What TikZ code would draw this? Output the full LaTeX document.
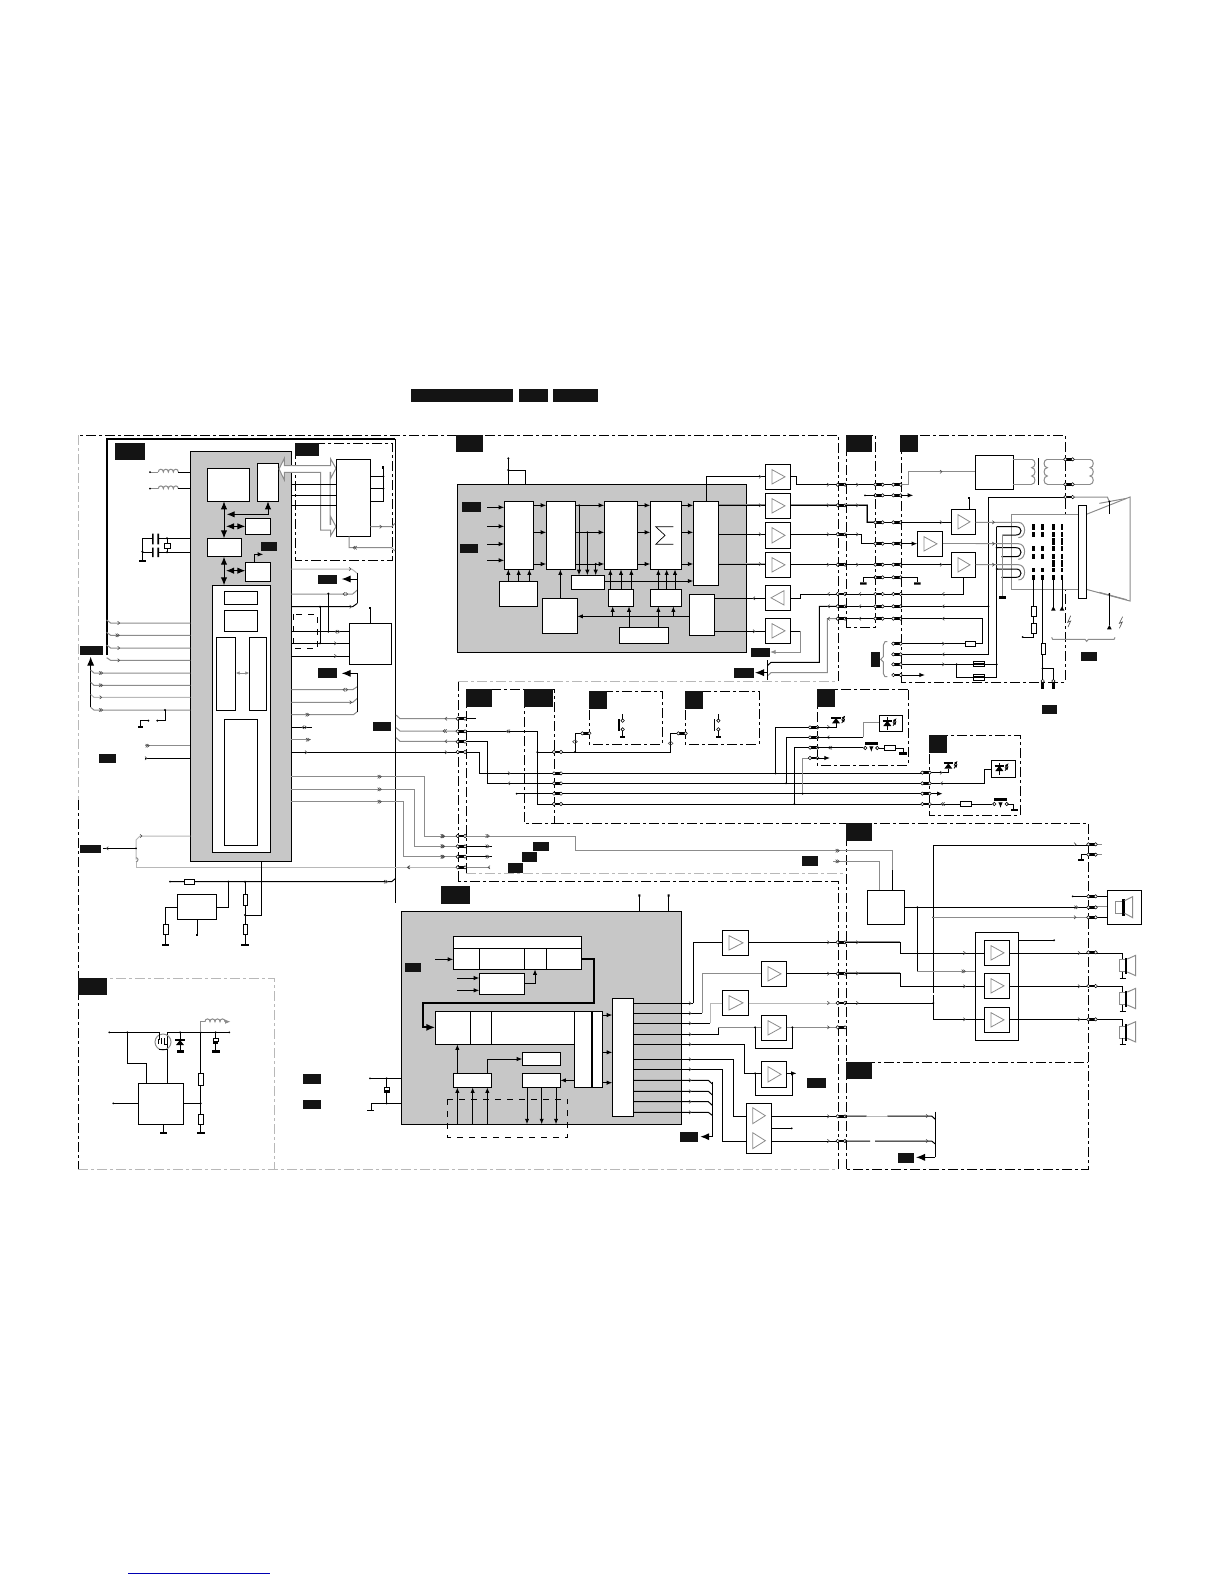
\documentclass[tikz,border=0pt]{standalone}
\usetikzlibrary{arrows.meta,fit}
\definecolor{gb}{gray}{0.78}
\definecolor{gw}{gray}{0.55}
\definecolor{lg}{gray}{0.72}
\tikzset{
 x=.5pt,y=-.5pt,
 z/.style 2 args={shift={(#1,#2)},x=.16667pt,y=-.16667pt},
 wire/.style={line width=.5pt,black},
 gwire/.style={line width=.5pt,gw},
 lwire/.style={line width=.5pt,lg},
 tk/.style={line width=.8pt,black},
 ar/.style={-{Latex[length=2.8pt,width=2.2pt]}},
 tar/.style={-{Latex[length=4.5pt,width=3.6pt]}},
 dar/.style={{Latex[length=4pt,width=3.2pt]}-{Latex[length=4pt,width=3.2pt]}},
 sdar/.style={{Latex[length=2pt,width=1.8pt]}-{Latex[length=2pt,width=1.8pt]}},
 dd/.style={line width=.5pt,black,dash pattern=on 5pt off 1.5pt on 1.5pt off 1.5pt},
 ddg/.style={line width=.5pt,lg,dash pattern=on 5pt off 1.5pt on 1.5pt off 1.5pt},
 blk/.style={draw=black,fill=white,rectangle,inner sep=0pt,outer sep=0pt,minimum size=0pt,line width=.5pt},
 gblk/.style={blk,fill=gb},
 mk/.style={line width=.3pt,black!70},
}
\newcommand\bx[6][]{\path (#3,#4) coordinate (#2@a) (#5,#6) coordinate (#2@b);\node[blk,#1,fit=(#2@a)(#2@b)] (#2) {};}
\newcommand\lab[4]{\fill[black!92] (#1,#2) rectangle (#3,#4);}
\newcommand\chR[2]{\draw[mk] ({#1-3},{#2-5}) -- ({#1+3},#2) -- ({#1-3},{#2+5});}
\newcommand\chL[2]{\draw[mk] ({#1+3},{#2-5}) -- ({#1-3},#2) -- ({#1+3},{#2+5});}
\newcommand\dcR[2]{\chR{#1}{#2}\chR{#1+5}{#2}}
\newcommand\dcL[2]{\chL{#1}{#2}\chL{#1+5}{#2}}
\newcommand\chB[2]{\chL{#1-4}{#2}\chR{#1+4}{#2}}
\newcommand\dott[2]{\fill[black] (#1,#2) circle[radius=.55pt];}
\newcommand\pinn[3]{\fill[black] (#1,{#3-4}) rectangle (#2,{#3+4});
 \draw[line width=.25pt,fill=white] (#1,#3) circle[radius=.85pt] (#2,#3) circle[radius=.85pt];}
\newcommand\pinV[3]{\fill[black] ({#1-4},#2) rectangle ({#1+4},#3);
 \draw[line width=.25pt,fill=white] (#1,#2) circle[radius=.85pt];}
\newcommand\rV[3]{\draw[wire,fill=white] ({#1-7},#2) rectangle ({#1+7},#3);}
\newcommand\rH[3]{\draw[wire,fill=white] (#1,{#3-7}) rectangle (#2,{#3+7});}
\newcommand\coilH[3]{\pgfmathsetmacro\coilw{(#2-#1)/4}%
 \draw[gwire] (#1,#3) \foreach \i in {0,1,2,3}{ .. controls ({#1+\i*\coilw},{#3-11}) and ({#1+(\i+1)*\coilw},{#3-11}) .. ({#1+(\i+1)*\coilw},#3)};}
\newcommand\coilV[4]{\pgfmathsetmacro\coilw{(#3-#2)/3}%
 \draw[gwire] (#1,#2) \foreach \i in {0,1,2}{ .. controls ({#1+#4},{#2+\i*\coilw}) and ({#1+#4},{#2+(\i+1)*\coilw}) .. (#1,{#2+(\i+1)*\coilw})};}
\newcommand\ampR[5]{\bx{#1}{#2}{#3}{#4}{#5}\draw[line width=.4pt,gw] ({#2+20},{#3+16}) -- ({#4-17},{(#3+#5)/2}) -- ({#2+20},{#5-16}) -- cycle;}
\newcommand\ampL[5]{\bx{#1}{#2}{#3}{#4}{#5}\draw[line width=.4pt,gw] ({#4-20},{#3+16}) -- ({#2+17},{(#3+#5)/2}) -- ({#4-20},{#5-16}) -- cycle;}
\newcommand\led[2]{\fill[black] ({#1-12},{#2+8}) -- ({#1+12},{#2+8}) -- (#1,{#2-8}) -- cycle;
 \draw[line width=1pt] ({#1-14},{#2-8}) -- ({#1+14},{#2-8});
 \draw[line width=.4pt,-{Latex[length=2pt,width=1.6pt]}] ({#1+17},{#2-2}) -- ({#1+28},{#2-16});
 \draw[line width=.4pt,-{Latex[length=2pt,width=1.6pt]}] ({#1+17},{#2+7}) -- ({#1+28},{#2-7});}
\newcommand\swt[3]{\draw[line width=.3pt,fill=white] ({#1},{#3}) circle[radius=.85pt] ({#2},{#3}) circle[radius=.85pt];
 \fill[black] ({#1-1},{#3-18}) rectangle ({#2+1},{#3-10});
 \draw[wire,ar] ({(#1+#2)/2},{#3-4}) -- ({(#1+#2)/2},{#3+12});}
\newcommand\swv[3]{\draw[line width=.3pt,fill=white] (#1,#2) circle[radius=.85pt] (#1,#3) circle[radius=.85pt];
 \fill[black] ({#1-14},{#2-4}) rectangle ({#1-9},{#3+4});
 \draw[wire] (#1,{#2-19}) -- (#1,{#2-5}) (#1,{#3+5}) -- (#1,{#3+22});
 \fill[black] ({#1-8},{#3+21}) rectangle ({#1+8},{#3+25});}
\newcommand\spk[2]{%
 \draw[wire] (#1,{#2+1}) -- ({#1},{#2+20});
 \draw[gwire,fill=white] ({#1-10},{#2+20}) rectangle ({#1+10},{#2+56});
 \fill[black] ({#1+7},{#2+14}) rectangle ({#1+14},{#2+64});
 \draw[gwire] ({#1+14},{#2+18}) -- ({#1+39},{#2+7}) -- ({#1+39},{#2+68}) -- ({#1+14},{#2+57});
 \draw[wire] (#1,{#2+56}) -- (#1,{#2+76}) ({#1-9},{#2+76}) -- ({#1+9},{#2+76});}
\begin{document}
\begin{tikzpicture}
\path[use as bounding box,fill=white] (0,0) rectangle (1224,1584);
% header
\lab{411}{389}{513}{402}\lab{519}{389}{548}{402}\lab{553}{389}{598}{402}
\draw[line width=.5pt,blue!70!black] (128,1573) -- (270,1573);
% frames
\draw[dd] (838,681) -- (838,435) -- (78,435);
\draw[ddg] (78,435) -- (78,800);
\draw[dd] (78,800) -- (78,1169);
\draw[ddg] (78,1169) -- (838,1169);
\draw[dd] (838,1169) -- (838,881) -- (458,881);
\draw[dd] (458,881) -- (458,681);
\draw[ddg] (458,681) -- (838,681);
\draw[dd] (466,873) -- (466,689) -- (554,689) -- (554,823) -- (524,823) -- (524,689);
\draw[dd] (554,823) -- (846,823);
\draw[ddg] (466,873) -- (846,873);
\draw[dd] (846,627) -- (846,435) -- (875,435) -- (875,627) -- cycle;
\draw[dd] (901,682) -- (901,435) -- (1065,435) -- (1065,682) -- cycle;
\draw[dd] (589,691) rectangle (662,744);
\draw[dd] (685,691) rectangle (759,744);
\draw[dd] (908,689) -- (817,689) -- (817,765) -- (908,765) -- cycle;
\draw[dd] (929,735) rectangle (1020,815);
\draw[dd] (846,1169) -- (846,823) -- (1088,823) -- (1088,1169) -- cycle;
\draw[dd] (846,1062) -- (1088,1062);
\draw[ddg] (78,978) -- (274,978) -- (274,1169);

%%%%%%%%%%%%%%% A
\begin{scope}[z={70}{425}]
\draw[line width=1pt] (110,690) -- (110,42) -- (975,42);
\draw[wire] (975,42) -- (975,1434);
\lab{135}{55}{225}{105}\lab{30}{663}{99}{690}\lab{30}{1260}{93}{1283}\lab{87}{987}{138}{1013}
\lab{744}{450}{801}{477}\lab{744}{729}{801}{758}\lab{909}{891}{963}{917}
\bx[gblk]{gA}{361}{79}{664}{1309}
\bx{a1}{412}{130}{538}{229}
\bx{a2}{562}{115}{625}{229}
\bx{a3}{526}{280}{602}{328}
\bx{a4}{412}{340}{515}{395}
\bx{a5}{526}{412}{602}{469}
\bx{a6}{427}{481}{602}{1282}
\bx{a7}{463}{499}{563}{538}
\bx{a8}{463}{556}{563}{619}
\bx{a9}{439}{637}{497}{857}
\bx{a10}{538}{637}{590}{857}
\bx{a11}{463}{883}{563}{1261}
\lab{573}{351}{621}{378}
\draw[wire,dar] (a1.south-|462,0) -- (a4.north-|462,0);
\draw[wire,dar] (470,268) -- (594,268) -- (a2.south-|594,0);
\draw[wire,dar] (468,304) -- (a3.west|-0,304);
\draw[wire,dar] (a4.south-|462,0) -- (a6.north-|462,0);
\draw[wire,dar] (468,437) -- (a5.west|-0,437);
\draw[wire,ar] (a5.north-|553,0) -- (553,388) -- (580,388);
\draw[gwire,sdar] (a9.east|-0,744) -- (a10.west|-0,744);
% coils
\draw[gwire] (240,141) -- (265,141); \fill (240,141) circle[radius=.5pt];
\coilH{265}{325}{141}\draw[wire] (325,141) -- (gA.west|-0,141);
\draw[gwire] (240,191) -- (265,191); \fill (240,191) circle[radius=.5pt];
\coilH{265}{325}{191}\draw[wire] (325,191) -- (gA.west|-0,191);
% crystal
\draw[wire] (gA.west|-0,340) -- (264,340) (248,340) -- (217,340) -- (217,405) (gA.west|-0,382) -- (264,382) (248,382) -- (217,382);
\fill (246,326) rectangle (251,358) (262,326) rectangle (267,358) (246,368) rectangle (251,396) (262,368) rectangle (267,396);
\fill (207,405) rectangle (227,412);
\dott{217}{380}\dott{291}{340}\dott{291}{382}
\draw[wire] (291,340) -- (291,382);\draw[wire,fill=white] (283,356) rectangle (301,370);
% right IC + dashed
\draw[dd] (675,55) rectangle (968,406);
\lab{675}{55}{747}{92}
\draw[line width=.5pt,gw,fill=white] (627,132) -- (643,100) -- (643,122) -- (782,122) -- (782,102) -- (798,130) -- (782,160) -- (782,142) -- (780,142) -- (780,298) -- (782,298) -- (782,275) -- (798,305) -- (782,332) -- (782,315) -- (752,315) -- (752,142) -- (643,142) -- (643,165) -- cycle;
\bx{a12}{799}{103}{901}{334}
\foreach \y in {178,211,241}{\draw[wire] (gA.east|-0,\y) -- (a12.west|-0,\y);}
\draw[wire] (a12.east|-0,154) -- (940,154) (a12.east|-0,191) -- (940,191) (a12.east|-0,229) -- (940,229) -- (940,125);
\dott{940}{154}\dott{940}{191}\fill (936,124) rectangle (941,132);
\draw[gwire] (a12.east|-0,305) -- (965,305) -- (975,295);\chR{932}{305}
\draw[gwire] (837,334) -- (837,368) -- (965,368) -- (975,378);\dcL{852}{368}
% right gray lines
\draw[lwire] (gA.east|-0,432) -- (845,432) -- (862,445);\chR{840}{432}
\draw[gwire] (gA.east|-0,507) -- (848,507) -- (862,495);\chB{826}{507}
\draw[wire] (gA.east|-0,545) -- (848,545) -- (862,535);\chR{842}{545}
\draw[wire] (862,445) -- (862,535);
\draw[wire,tar] (862,462) -- (815,462);
\dott{775}{506}\dott{750}{545}
\bx{a13}{838}{595}{965}{718}
\draw[wire] (775,506) -- (775,620) (750,545) -- (750,655);
\draw[dd,dashed] (670,568) rectangle (743,670);
\draw[wire] (gA.east|-0,620) -- (a13.west|-0,620);\chB{802}{620}
\draw[wire] (gA.east|-0,655) -- (a13.west|-0,655);\chR{796}{655}
\draw[wire] (gA.east|-0,693) -- (a13.west|-0,693);\chR{796}{693}
\dott{775}{620}\dott{750}{655}
\draw[wire] (a13.north-|900,0) -- (900,545);\fill (897,545) rectangle (903,552);
\draw[gwire] (gA.east|-0,794) -- (848,794) -- (862,785);\chB{826}{794}
\draw[gwire] (gA.east|-0,832) -- (848,832) -- (862,820);\chR{842}{832}
\draw[gwire] (gA.east|-0,869) -- (850,869) -- (862,860);\dcR{710}{869}
\draw[wire] (862,745) -- (862,860);
\draw[wire,tar] (862,745) -- (815,745);
\draw[wire] (gA.east|-0,907) -- (725,907);\chB{703}{907}
\draw[gwire] (gA.east|-0,944) -- (722,944);\dcR{711}{944}
\draw[wire] (gA.east|-0,982) -- (1163,982);\chR{708}{982}\chR{1128}{982}
\draw[gwire] (978,870) -- (990,881) -- (1163,881);\chL{1128}{881}
\draw[gwire] (978,908) -- (990,918) -- (1163,918);\dcL{1122}{918}
\draw[gwire] (978,938) -- (990,949) -- (1163,949);\chL{1128}{949}
\draw[gwire] (gA.east|-0,1055) -- (1063,1055) -- (1063,1234) -- (1163,1234);\dcR{926}{1055}\dcR{1116}{1234}
\draw[gwire] (gA.east|-0,1093) -- (1032,1093) -- (1032,1264) -- (1163,1264);\dcR{926}{1093}\dcR{1116}{1264}
\draw[gwire] (gA.east|-0,1130) -- (1000,1130) -- (1000,1295) -- (1163,1295);\dcR{926}{1130}\dcR{1116}{1295}
\draw[lwire] (1163,1327) -- (198,1327) -- (198,1310);\chL{1015}{1327}
\draw[lwire] (198,1304) -- (198,1245) -- (210,1233) -- (gA.west|-0,1233);\chR{213}{1233}
\draw[gwire] (198,1310) arc[start angle=-90,end angle=90,radius=1pt];
\dott{198}{1270}
\draw[wire] (198,1270) -- (100,1270);\chL{112}{1270}
% left lines
\foreach \a/\b/\m in {585/594/1,622/631/2,660/669/1,698/706/1}{
 \draw[gwire] (110,\a) -- (122,\b) -- (gA.west|-0,\b);}
\chR{146}{594}\dcR{140}{631}\chR{146}{669}\chR{146}{706}
\draw[wire,tar] (62,847) -- (62,695);
\foreach \a/\b in {735/744,772/781,847/855}{\draw[gwire] (62,\a) -- (72,\b) -- (gA.west|-0,\b);\dcR{90}{\b}}
\draw[lwire] (62,808) -- (72,817) -- (gA.west|-0,817);\chR{92}{817}
\draw[wire] (285,855) -- (285,887) -- (262,887);\dott{285}{855}\dott{262}{887}\dott{235}{887}
\draw[wire] (235,887) -- (210,887) -- (210,905);\fill (203,904) rectangle (218,909);
\draw[gwire] (225,962) -- (gA.west|-0,962);\dcR{230}{962}
\draw[wire] (225,1000) -- (gA.west|-0,1000);\chR{228}{1000}
\end{scope}

%%%%%%%%%%%%%%% B
\begin{scope}[z={450}{425}]
\lab{18}{31}{99}{81}
\bx[gblk]{gB}{22}{178}{889}{682}
\bx{b1}{163}{229}{250}{433}
\bx{b2}{289}{229}{377}{433}
\bx{b3}{463}{229}{562}{433}
\bx{b4}{601}{229}{694}{433}
\bx{b5}{730}{229}{806}{481}
\bx{b6}{148}{469}{262}{544}
\bx{b7}{277}{520}{382}{625}
\bx{b8}{364}{451}{463}{493}
\bx{b9}{475}{493}{550}{544}
\bx{b10}{601}{493}{694}{544}
\bx{b11}{718}{508}{793}{631}
\bx{b12}{508}{607}{655}{655}
\draw[line width=.35pt] (670,305) -- (617,305) -- (645,331) -- (617,358) -- (670,358);
\lab{36}{232}{93}{260}\lab{30}{357}{84}{383}
\draw[wire] (gB.north-|175,0) -- (175,100);\dott{175}{100}\dott{175}{135}
\draw[wire] (175,135) -- (227,135) -- (gB.north-|227,0);
\foreach \y in {247,304,357,406}{\draw[wire,ar] (111,\y) -- (b1.west|-0,\y);}
\foreach \y in {241,322,417}{
 \draw[wire,ar] (b1.east|-0,\y) -- (b2.west|-0,\y);
 \draw[wire,ar] (b2.east|-0,\y) -- (b3.west|-0,\y);
 \draw[wire,ar] (b3.east|-0,\y) -- (b4.west|-0,\y);
 \draw[wire,ar] (b4.east|-0,\y) -- (b5.west|-0,\y);}
\dott{387}{241}\dott{412}{322}\dott{437}{417}
\draw[wire,ar] (387,241) -- (b8.north-|387,0);
\draw[wire,ar] (412,322) -- (b8.north-|412,0);
\draw[wire,ar] (437,417) -- (b8.north-|437,0);
\foreach \x in {175,206,238}{\draw[wire,ar] (b6.north-|\x,0) -- (b1.south-|\x,0);}
\draw[wire,ar] (b7.north-|331,0) -- (b2.south-|331,0);
\foreach \x in {481,513,544}{\draw[wire,ar] (b9.north-|\x,0) -- (b3.south-|\x,0);}
\foreach \x in {625,650,675}{\draw[wire,ar] (b10.north-|\x,0) -- (b4.south-|\x,0);}
\draw[wire,ar] (b8.east|-0,468) -- (b5.west|-0,468);
\draw[wire,ar] (b11.west|-0,574) -- (b7.east|-0,574);
\draw[wire,ar] (488,574) -- (b9.south-|488,0);
\draw[wire,ar] (670,574) -- (b10.south-|670,0);
\draw[wire,ar] (b12.north-|537,0) -- (b9.south-|537,0);
\draw[wire,ar] (b12.north-|625,0) -- (b10.south-|625,0);
\ampR{c1}{946}{118}{1022}{193}
\ampR{c2}{946}{205}{1022}{280}
\ampR{c3}{946}{292}{1022}{370}
\ampR{c4}{946}{382}{1022}{457}
\ampL{c5}{946}{481}{1022}{556}
\ampR{c6}{946}{580}{1022}{655}
\draw[wire] (b5.north-|769,0) -- (769,155) -- (c1.west|-0,155);\chR{930}{155}
\draw[line width=.9pt,gw] (b5.east|-0,241) -- (c2.west|-0,241);\draw[wire] (b5.east|-0,241) -- (c2.west|-0,241);\chR{930}{241}
\draw[wire] (b5.east|-0,328) -- (c3.west|-0,328);\chR{930}{328}
\draw[line width=.8pt,lg] (b5.east|-0,417) -- (c4.west|-0,417);\draw[wire] (b5.east|-0,417) -- (c4.west|-0,417);\chR{930}{417}
\draw[wire] (b11.east|-0,520) -- (c5.west|-0,520);\chL{912}{520}
\draw[wire] (b11.east|-0,619) -- (c6.west|-0,619);\chR{912}{619}
\draw[wire] (c1.east|-0,155) -- (1040,155) -- (1040,179) -- (1163,179);\chR{1134}{179}
\draw[line width=.9pt,gw] (c2.east|-0,241) -- (1163,241);\draw[wire] (c2.east|-0,241) -- (1163,241);\chR{1134}{241}
\draw[wire] (c3.east|-0,328) -- (1163,328);\chR{1134}{328}
\draw[line width=.8pt,lg] (c4.east|-0,419) -- (1163,419);\draw[wire] (c4.east|-0,419) -- (1163,419);\chR{1134}{419}
\draw[wire] (1163,507) -- (1052,507) -- (1052,520) -- (c5.east|-0,520);\chL{1136}{507}
\draw[wire] (1163,544) -- (1108,544) -- (1108,712) -- (963,712) -- (952,722);\chL{1136}{544}
\draw[gwire] (1163,581) -- (1132,581) -- (1132,743) -- (963,743) -- (952,753);\chL{1136}{581}
\draw[wire] (952,705) -- (952,765);
\draw[wire,tar] (952,743) -- (915,743);
\draw[wire] (c6.east|-0,619) -- (1052,619);\draw[gwire,ar] (1052,619) -- (1052,681) -- (960,681);
\lab{903}{669}{960}{696}\lab{852}{729}{912}{759}
\foreach \y in {179,241,328,419,507,544,581}{\pinn{1163}{1185}{\y}}
\end{scope}

%%%%%%%%%%%%%%% C
\begin{scope}[z={830}{425}]
\lab{48}{30}{126}{80}\lab{210}{30}{264}{80}
\bx{d1}{436}{91}{550}{193}
% CRT neck first: it hides the frame
\draw[gwire,fill=white] (545,268) rectangle (745,493);
\draw[gwire,fill=white] (769,268) -- (900,216) -- (900,528) -- (769,493);
\draw[gwire] (808,235) -- (890,220) (808,502) -- (890,524);
\draw[wire,fill=white] (745,241) rectangle (769,520);
\draw[wire] (45,179) -- (136,179);\chR{82}{179}
\draw[line width=.9pt,gw] (45,241) -- (112,241) -- (112,292) -- (136,292);\draw[wire] (45,241) -- (112,241) -- (112,292) -- (136,292);\chR{82}{241}
\draw[wire] (45,328) -- (93,328) -- (93,356) -- (136,356);\chR{82}{328}
\draw[wire] (45,419) -- (136,419);\chR{82}{419}
\draw[wire] (45,507) -- (136,507);\chL{90}{507}
\draw[wire] (45,544) -- (136,544);\chL{90}{544}
\draw[wire] (45,581) -- (136,581);\chL{90}{581}
\foreach \y in {179,292,356,419,457,507,544,581,211}{\draw[wire] (158,\y) -- (190,\y);\pinn{136}{158}{\y}\pinn{190}{212}{\y}}
\draw[wire] (105,211) -- (136,211);\fill (105,211) circle[radius=.5pt];
\draw[wire,ar] (212,211) -- (250,211);
\draw[wire] (136,457) -- (100,457) -- (100,472) (212,457) -- (262,457) -- (262,472);
\fill (90,472) rectangle (110,479) (252,472) rectangle (272,479);
\draw[gwire] (212,179) -- (235,179) -- (235,140) -- (d1.west|-0,140);\chR{333}{140}
\draw[gwire] (d1.east|-0,103) -- (605,103) (d1.east|-0,178) -- (605,178);
\coilV{605}{103}{178}{13}
\draw[line width=.6pt] (625,100) -- (625,180);
\coilV{652}{103}{178}{-13}
\draw[gwire] (652,103) -- (706,103) (652,178) -- (706,178);
\draw[gwire] (728,103) -- (780,103) (728,178) -- (780,178);
\coilV{780}{103}{178}{13}
\ampR{d2}{364}{253}{437}{328}
\ampR{d3}{262}{319}{338}{394}
\ampR{d4}{364}{382}{437}{457}
\draw[wire] (d2.north-|418,0) -- (418,218);\fill (415,216) rectangle (421,222);
\draw[wire] (212,292) -- (d2.west|-0,292);\chR{333}{292}
\draw[wire,ar] (212,356) -- (d3.west|-0,356);
\draw[wire] (212,419) -- (d4.west|-0,419);\chR{333}{419}
\draw[wire] (d4.south-|401,0) -- (401,507) -- (212,507);\chL{340}{507}
\draw[wire] (212,544) -- (475,544);\chL{340}{544}\dott{475}{544}
\draw[wire] (212,581) -- (457,581) -- (457,656) -- (437,656);\chL{340}{581}
\rH{406}{437}{656}
\draw[wire] (406,656) -- (212,656);\chR{340}{656}
\draw[wire] (475,216) -- (475,688) -- (212,688);\chL{340}{688}
\draw[wire] (475,216) -- (706,216);
\draw[gwire] (728,216) -- (832,216) -- (838,230);
\draw[wire] (212,718) -- (430,718);\chR{340}{718}\dott{380}{718}
\draw[wire] (380,718) -- (380,757) -- (430,757);
\draw[wire] (463,718) -- (500,718) (463,757) -- (500,757) -- (500,305);\dott{500}{718}
\draw[wire,fill=white] (430,710) rectangle (463,725) (430,749) rectangle (463,765);
\draw[line width=1pt] (430,717.5) -- (463,717.5) (430,757) -- (463,757);
\draw[wire,ar] (212,750) -- (285,750);
\draw[gwire] (172,650) -- (165,650) -- (160,660) -- (160,695) -- (152,703) -- (160,711) -- (160,745) -- (165,755) -- (172,755);
\lab{123}{681}{150}{725}
% heaters
\foreach \a/\b in {292/330,356/395,419/457}{
 \draw[gwire] (437,\a) -- (565,\a) .. controls (590,\a) and (590,{\b+8}) .. (565,{\b+8});}
\draw[gwire] (338,356) -- (437,356);
\foreach \a/\b in {305/330,368/395,432/457}{
 \draw[wire] (500,\a) -- (558,\a) .. controls (578,\a) and (578,\b) .. (558,\b) -- (517,\b);}
\dott{500}{368}\dott{500}{432}\dott{517}{395}\dott{517}{457}
\draw[gwire] (517,330) -- (517,515);\fill (508,513) rectangle (528,521);
\chR{490}{292}\chR{490}{356}\chR{490}{419}
% electrodes
\foreach \x in {611,637}{\foreach \a/\b in {297/315,320/335,363/377,388/402,428/442,450/465}{\fill (\x-4,\a) rectangle (\x+4,\b);}}
\foreach \x in {670,696}{\foreach \a/\b in {297/315,320/335,338/360,363/377,388/402,405/425,428/442,450/465}{\fill (\x-4,\a) rectangle (\x+4,\b);}}
\draw[wire] (611,465) -- (611,636) -- (578,636);\fill (578,636) circle[radius=.5pt];
\rV{611}{545}{575}\rV{611}{595}{625}
\draw[wire] (638,465) -- (638,765);\rV{640}{655}{688}
\dott{638}{730}\draw[wire] (638,730) -- (670,730) -- (670,765);
\pinV{638}{768}{792}\pinV{670}{768}{792}
\draw[wire] (670,465) -- (670,550) (696,465) -- (696,550);
\fill (663,557) -- (677,557) -- (670,544) -- cycle (689,557) -- (703,557) -- (696,544) -- cycle;
\draw[wire] (838,230) -- (838,268) (838,505) -- (838,600);\dott{838}{230}\dott{838}{507}
\fill (831,613) -- (845,613) -- (838,600) -- cycle;
\draw[line width=.3pt,black!70] (722,572) -- (713,592) -- (722,588) -- (714,606);
\draw[line width=.3pt,black!70] (878,575) -- (868,595) -- (877,591) -- (868,610);
\draw[gwire] (665,637) -- (668,643) -- (765,643) -- (770,649) -- (775,643) -- (852,643) -- (855,637);
\lab{753}{682}{801}{707}\lab{635}{840}{681}{866}
\foreach \y in {656,688,718,750}{\pinn{190}{212}{\y}}
\pinn{706}{728}{103}\pinn{706}{728}{178}\pinn{706}{728}{216}
\end{scope}

%%%%%%%%%%%%%%% D
\begin{scope}[z={390}{680}]
\lab{229}{28}{306}{80}\lab{403}{28}{489}{80}\lab{598}{33}{651}{86}\lab{885}{33}{939}{86}\lab{1282}{27}{1335}{80}
\lab{430}{486}{476}{512}\lab{396}{516}{441}{545}\lab{354}{549}{399}{579}
\draw[wire] (225,116) -- (257,116);
\draw[wire] (225,154) -- (442,154) -- (442,372) -- (492,372);\dcL{352}{154}\dott{442}{216}
\draw[wire] (225,185) -- (293,185) -- (293,310) -- (492,310);\chL{357}{310}
\draw[wire] (225,216) -- (268,216) -- (268,280) -- (492,280);\chR{357}{280}
\draw[wire] (380,341) -- (492,341);\fill (380,341) circle[radius=.5pt];
\draw[wire] (442,216) -- (492,216);
\draw[wire] (513,216) -- (842,216) -- (842,160) -- (865,160);\dott{555}{216}
\draw[wire] (555,216) -- (555,160) -- (577,160);\chB{555}{185}\chB{842}{190}
\foreach \y in {280,310,341,372}{\draw[wire] (513,\y) -- (1596,\y);}
\draw[wire] (1157,280) -- (1157,142) -- (1260,142);\dott{1157}{280}
\draw[wire] (1188,310) -- (1188,172) -- (1260,172);\dott{1188}{310}
\draw[wire] (1213,372) -- (1213,203) -- (1260,203);\dott{1213}{372}
\draw[gwire] (1238,341) -- (1238,234) -- (1260,234);\dott{1238}{341}
\foreach \y in {216,280,310,341,372}{\pinn{492}{513}{\y}}
\pinn{577}{598}{160}\pinn{865}{887}{160}
\foreach \y in {142,172,203,234}{\pinn{1260}{1282}{\y}}
\swv{698}{122}{148}\swv{985}{122}{148}
\draw[gwire] (225,468) -- (555,468) -- (555,511) -- (1368,511);
\draw[wire] (225,499) -- (305,499);\draw[wire] (225,530) -- (305,530);\draw[gwire] (225,562) -- (300,562);
\foreach \y in {468,499,530}{\dcR{155}{\y}\dcR{290}{\y}}
\chL{297}{562}\chL{57}{562}
\foreach \y in {116,154,185,216,468,499,530,562}{\pinn{203}{225}{\y}}
\end{scope}

%%%%%%%%%%%%%%% E
\begin{scope}[z={800}{680}]
\lab{387}{165}{441}{219}\lab{138}{430}{216}{483}\lab{6}{528}{54}{558}
\chR{85}{141}\chL{85}{172}\dcL{88}{203}
\draw[wire] (52,141) -- (108,141) -- (108,130);\led{108}{122}
\bx{e1}{238}{105}{308}{155}
\draw[wire] (52,172) -- (190,172);\draw[gwire] (190,172) -- (190,127) -- (e1.west|-0,127);
\draw[wire] (262,112) -- (262,150);\led{262}{130}
\draw[wire] (52,203) -- (190,203);\swt{196}{232}{204}
\draw[wire] (238,204) -- (309,204) -- (309,218);\rH{253}{287}{204}\fill (298,217) rectangle (320,224);
\draw[wire,ar] (52,234) -- (90,234);
\bx{e2}{574}{241}{647}{293}
\draw[wire] (389,278) -- (445,278) -- (445,267);\led{445}{258}\chR{423}{278}
\draw[wire] (389,310) -- (553,310) -- (553,267) -- (e2.west|-0,267);\chL{425}{310}
\draw[wire] (598,250) -- (598,285);\led{598}{265}
\draw[wire,ar] (389,341) -- (428,341);
\draw[wire] (389,372) -- (577,372);\rH{481}{515}{372}\dcL{426}{372}
\swt{583}{620}{372}
\draw[wire] (625,372) -- (640,372) -- (640,388);\fill (632,387) rectangle (654,394);
\foreach \y in {278,310,341,372}{\pinn{367}{389}{\y}}
% lower lines
\draw[gwire] (112,512) -- (277,512) -- (277,600);\dcR{110}{512}
\draw[gwire] (100,544) -- (238,544) -- (238,600);\dcR{110}{544}
\draw[wire] (400,600) -- (400,496) -- (865,496);\chR{825}{493}
\draw[wire] (865,524) -- (843,524) -- (843,540);\fill (833,538) rectangle (853,543);
\draw[gwire] (887,493) -- (905,493) (887,524) -- (905,524);
\pinn{865}{887}{493}\pinn{865}{887}{524}
\end{scope}

%%%%%%%%%%%%%%% F
\begin{scope}[z={390}{880}]
\lab{153}{18}{240}{71}\lab{1251}{594}{1308}{624}\lab{870}{756}{924}{785}
\bx[gblk]{gF}{35}{95}{875}{733}
\lab{45}{250}{93}{275}
\draw[wire] (gF.north-|748,0) -- (748,45) (gF.north-|836,0) -- (836,45);\fill (745,43) rectangle (751,50) (833,43) rectangle (839,50);
\bx{f1}{190}{170}{575}{268}
\draw[wire] (190,206) -- (575,206);
\foreach \x in {268,403,469}{\draw[wire] (\x,206) -- (\x,268);}
\bx{f2}{268}{280}{403}{343}
\draw[wire,ar] (135,238) -- (f1.west|-0,238);
\draw[wire,ar] (202,294) -- (f2.west|-0,294);
\draw[wire,ar] (202,331) -- (f2.west|-0,331);
\draw[wire,ar] (f2.east|-0,311) -- (435,311) -- (435,268);
\bx{f3}{136}{394}{637}{493}
\bx{f4}{553}{394}{637}{622}
\draw[wire] (241,394) -- (241,493) (304,394) -- (304,493);
\draw[line width=1pt] (606,394) -- (606,622);
\draw[line width=1pt,tar] (f1.east|-0,236) -- (612,236) -- (612,368) -- (98,368) -- (98,442) -- (f3.west|-0,442);
\bx{f5}{667}{355}{730}{709}
\foreach \y in {405,517,608}{\draw[wire,ar] (f4.east|-0,\y) -- (f5.west|-0,\y);}
\bx{f6}{190}{580}{304}{622}
\bx{f7}{397}{517}{511}{556}
\bx{f8}{397}{580}{511}{622}
\draw[wire,ar] (f6.north-|202,0) -- (f3.south-|202,0);
\draw[wire,ar] (f6.north-|292,0) -- (292,537) -- (f7.west|-0,537);
\draw[wire,ar] (f4.west|-0,601) -- (f8.east|-0,601);
\foreach \x in {202,248,292}{\draw[wire,ar] (\x,733) -- (f6.south-|\x,0);}
\foreach \x in {411,455,498}{\draw[wire,ar] (f8.south-|\x,0) -- (\x,733);}
\draw[dd,dashed] (172,657) -- (172,772) -- (533,772) -- (533,657) -- cycle;
\ampR{g1}{997}{151}{1076}{226}
\ampR{g2}{1114}{244}{1190}{319}
\ampR{g3}{997}{331}{1076}{406}
\ampR{g4}{1114}{406}{1190}{481}
\ampR{g5}{1114}{544}{1190}{622}
\bx{g6}{1069}{670}{1145}{820}
\draw[line width=.4pt,gw] (1088,683) -- (1126,707) -- (1088,731) -- cycle (1088,758) -- (1126,782) -- (1088,806) -- cycle;
\draw[wire] (f5.east|-0,370) -- (910,370);
\draw[tk] (910,370) -- (910,187) -- (g1.west|-0,187);
\draw[tk] (g1.east|-0,187) -- (1343,187);
\draw[wire] (f5.east|-0,400) -- (937,400);\draw[gwire] (937,400) -- (937,281) -- (g2.west|-0,281);
\draw[wire] (g2.east|-0,281) -- (1343,281);
\draw[wire] (f5.east|-0,430) -- (961,430);\draw[lwire] (961,430) -- (961,369) -- (g3.west|-0,369);
\draw[lwire] (g3.east|-0,369) -- (1343,369);
\draw[wire] (f5.east|-0,463) -- (985,463) -- (985,442);\draw[gwire] (985,442) -- (g4.west|-0,442);
\draw[gwire] (g4.east|-0,442) -- (1343,442);
\draw[wire] (1095,442) -- (1095,505) -- (1207,505) -- (1207,442);\dott{1095}{442}\dott{1207}{442}
\draw[wire] (f5.east|-0,493) -- (1063,493) -- (1063,580) -- (g5.west|-0,580);
\draw[wire,ar] (g5.east|-0,580) -- (1220,580);
\draw[wire] (1095,580) -- (1095,645) -- (1207,645) -- (1207,580);\dott{1095}{580}\dott{1207}{580}
\draw[wire] (f5.east|-0,538) -- (1031,538) -- (1031,709) -- (g6.west|-0,709);
\draw[wire] (f5.east|-0,568) -- (998,568) -- (998,783) -- (g6.west|-0,783);
\draw[wire] (g6.east|-0,709) -- (1343,709);\draw[wire] (g6.east|-0,783) -- (1343,783);
\draw[wire] (g6.east|-0,745) -- (1205,745);\fill (1205,745) circle[radius=.5pt];
\foreach \a/\b in {601/612,634/645,665/676,697/706}{\draw[wire] (f5.east|-0,\a) -- (955,\a) -- (967,\b);}
\draw[wire] (967,605) -- (967,770);
\draw[tk,tar] (967,770) -- (930,770);
\foreach \y in {370,400,430,463,493,538,568,601,634,665,697}{\chR{900}{\y}}
\foreach \y in {187,281,369,442,709,783}{\chR{1315}{\y}\pinn{1343}{1365}{\y}}
\end{scope}

%%%%%%%%%%%%%%% G
\begin{scope}[z={830}{870}]
\lab{48}{575}{126}{626}\lab{204}{849}{252}{879}
\bx{h1}{112}{61}{224}{163}
\draw[gwire] (149,0) -- (h1.north-|149,0);
\draw[wire] (187,0) -- (h1.north-|187,0);
\draw[wire] (310,0) -- (310,369) (310,375) -- (310,448);
\dott{310}{142}\dott{262}{112}\dott{310}{399}
\draw[gwire] (310,142) -- (775,142);\chR{735}{142}
\draw[wire] (h1.east|-0,112) -- (775,112);\dcR{736}{112}
\bx{h2}{436}{187}{565}{511}
\draw[wire] (262,112) -- (262,304);\draw[gwire] (262,304) -- (h2.west|-0,304);\dcR{398}{304}
\ampR{h3}{463}{211}{539}{286}
\ampR{h4}{463}{310}{539}{385}
\ampR{h5}{463}{412}{539}{487}
\draw[line width=.9pt,gw] (45,217) -- (210,217);\draw[wire] (45,217) -- (210,217) -- (210,249) -- (h3.west|-0,249);\chR{82}{217}\chR{403}{249}
\draw[line width=.9pt,gw] (45,310) -- (210,310);\draw[wire] (45,310) -- (210,310) -- (210,349) -- (h4.west|-0,349);\chR{82}{310}\chR{403}{349}
\draw[wire] (45,399) -- (310,399);\chR{82}{399}
\draw[wire] (310,448) -- (h5.west|-0,448);\chR{403}{448}
\draw[wire] (h3.east|-0,249) -- (775,249);\chR{747}{249}
\draw[wire] (h4.east|-0,349) -- (775,349);\chR{747}{349}
\draw[wire] (h5.east|-0,448) -- (775,448);\chR{747}{448}
\draw[wire] (h2.east|-0,211) -- (672,211);\dott{672}{211}
\bx{h6}{832}{61}{935}{163}
\draw[wire] (728,79) -- (775,79) (797,79) -- (h6.west|-0,79);\fill (728,79) circle[radius=.5pt];
\draw[gwire] (797,110) -- (h6.west|-0,110);
\draw[wire] (797,142) -- (h6.west|-0,142);
\draw[gwire,fill=white] (856,93) rectangle (878,130);
\fill (877,88) rectangle (884,137);
\draw[gwire] (884,92) -- (908,80) -- (908,143) -- (884,130);
\draw[wire] (797,249) -- (878,249);\spk{878}{249}
\draw[wire] (797,348) -- (878,348);\spk{878}{348}
\draw[wire] (797,448) -- (878,448);\spk{878}{448}
\foreach \y in {79,112,142,247,348,448}{\pinn{775}{797}{\y}}
\draw[wire] (45,738) -- (110,738) (172,738) -- (305,738) -- (316,748);\draw[lwire] (110,738) -- (172,738);
\draw[wire] (45,813) -- (120,813) (135,813) -- (305,813) -- (316,822);
\chR{291}{738}\chR{291}{813}
\draw[wire] (316,725) -- (316,862);
\draw[wire,tar] (316,862) -- (258,862);
\end{scope}

%%%%%%%%%%%%%%% H
\begin{scope}[z={70}{860}]
\lab{23}{355}{111}{405}\lab{699}{642}{753}{672}\lab{699}{719}{753}{746}
\draw[wire] (374,65) -- (965,65) -- (977,55) (300,65) -- (343,65);\fill (300,65) circle[radius=.5pt];
\rH{343}{374}{65}\dott{475}{65}\dott{525}{65}\dcR{945}{65}
\bx{k1}{322}{103}{440}{179}
\draw[wire] (475,65) -- (475,142) -- (k1.east|-0,142);
\draw[wire] (k1.west|-0,142) -- (287,142) -- (287,255);\rV{287}{193}{224}
\fill (275,253) rectangle (297,258);
\draw[wire] (k1.south-|381,0) -- (381,225);\fill (378,223) rectangle (384,229);
\draw[wire] (525,65) -- (525,255);\rV{526}{103}{136}\rV{526}{193}{224}
\dott{525}{165}\draw[wire] (525,165) -- (575,165) -- (575,5);
\fill (513,253) rectangle (537,258);
% regulator
\bx{k2}{205}{670}{340}{793}
\draw[wire] (118,517) -- (269,517) (292,517) -- (480,517);\fill (118,517) circle[radius=.5pt] (478,517) circle[radius=.5pt];
\dott{172}{517}\draw[wire] (172,517) -- (172,610) -- (229,610) -- (k2.north-|229,0);
\draw[wire] (k2.north-|292,0) -- (292,517);
\draw[gwire] (279,546) circle[radius=4pt];
\draw[line width=.35pt] (269,517) -- (269,537) -- (265,537) -- (265,553) (273,535) -- (273,553) (283,535) -- (283,553) -- (292,553) (266,567) -- (292,567);
\dott{330}{517}\draw[wire] (330,517) -- (330,572);
\fill (318,555) -- (342,555) -- (330,540) -- cycle;\draw[line width=.6pt] (316,540) -- (344,540);
\fill (320,571) rectangle (342,578);
\dott{392}{517}\draw[wire] (392,517) -- (392,818);\rV{392}{640}{677}\rV{392}{762}{794}\dott{392}{730}
\fill (381,816) rectangle (405,821);
\draw[wire] (k2.east|-0,730) -- (392,730);
\draw[wire] (130,730) -- (k2.west|-0,730);\fill (130,730) circle[radius=.5pt];
\draw[wire] (k2.south-|280,0) -- (280,818);\fill (269,816) rectangle (291,821);
\dott{437}{517}\draw[wire] (437,517) -- (437,573);\draw[wire,fill=white] (430,535) rectangle (445,543);\fill (430,547) rectangle (445,551);
\fill (426,571) rectangle (450,578);
\draw[gwire] (392,517) -- (392,485) -- (405,485);\coilH{405}{465}{485}
\draw[gwire,ar] (465,485) -- (482,485);
% crystal feed right
\draw[wire] (900,655) -- (995,655) (995,730) -- (903,730) -- (903,750) (892,750) -- (912,750);
\fill (900,655) circle[radius=.5pt];
\dott{950}{655}\dott{950}{730}\draw[wire] (950,655) -- (950,730);
\draw[wire,fill=white] (943,682) rectangle (959,690);\fill (943,694) rectangle (959,698);
\end{scope}
\end{tikzpicture}
\end{document}
